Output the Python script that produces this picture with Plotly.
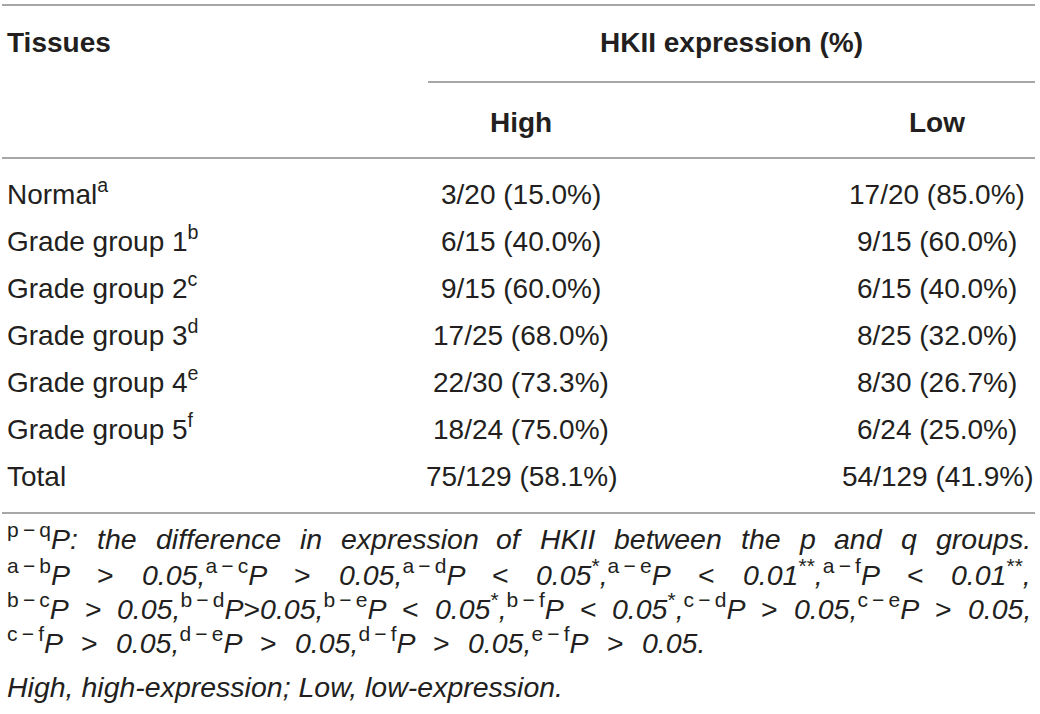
import re
import plotly.graph_objects as go

# table data
TISSUES = ["Normal", "Grade group 1", "Grade group 2", "Grade group 3",
           "Grade group 4", "Grade group 5", "Total"]
GROUP_MARKS = ["a", "b", "c", "d", "e", "f", ""]
HIGH_COUNT = [3, 6, 9, 17, 22, 18, 75]
LOW_COUNT = [17, 9, 6, 8, 8, 6, 54]
GROUP_TOTAL = [20, 15, 15, 25, 30, 24, 129]
HIGH_PCT = [15.0, 40.0, 60.0, 68.0, 73.3, 75.0, 58.1]
LOW_PCT = [85.0, 60.0, 40.0, 32.0, 26.7, 25.0, 41.9]

ROW_HEADER = "Tissues"
SPAN_HEADER = "HKII expression (%)"
SUB_HEADERS = ["High", "Low"]

# footnote lines split into words; each line is spread between the left edge and its right end
NOTE_LINES = [
    ["<sup>p − q</sup><i>P:</i>", "<i>the</i>", "<i>difference</i>", "<i>in</i>",
     "<i>expression</i>", "<i>of</i>", "<i>HKII</i>", "<i>between</i>", "<i>the</i>",
     "<i>p</i>", "<i>and</i>", "<i>q</i>", "<i>groups.</i>"],
    ["<sup>a − b</sup><i>P</i>", "&gt;", "<i>0.05,</i><sup>a − c</sup><i>P</i>", "&gt;",
     "<i>0.05,</i><sup>a − d</sup><i>P</i>", "&lt;",
     "<i>0.05</i><sup>*</sup><i>,</i><sup>a − e</sup><i>P</i>", "&lt;",
     "<i>0.01</i><sup>**</sup><i>,</i><sup>a − f</sup><i>P</i>", "&lt;",
     "<i>0.01</i><sup>**</sup><i>,</i>"],
    ["<sup>b − c</sup><i>P</i>", "&gt;",
     "<i>0.05,</i><sup>b − d</sup><i>P</i>&gt;<i>0.05,</i><sup>b − e</sup><i>P</i>", "&lt;",
     "<i>0.05</i><sup>*</sup><i>,</i><sup>b − f</sup><i>P</i>", "&lt;",
     "<i>0.05</i><sup>*</sup><i>,</i><sup>c − d</sup><i>P</i>", "&gt;",
     "<i>0.05,</i><sup>c − e</sup><i>P</i>", "&gt;", "<i>0.05,</i>"],
    ["<sup>c − f</sup><i>P</i>", "&gt;", "<i>0.05,</i><sup>d − e</sup><i>P</i>", "&gt;",
     "<i>0.05,</i><sup>d − f</sup><i>P</i>", "&gt;", "<i>0.05,</i><sup>e − f</sup><i>P</i>",
     "&gt;", "<i>0.05.</i>"],
]
LAST_NOTE = "<i>High, high-expression; Low, low-expression.</i>"

W, H = 1040, 714
FONT = "Helvetica Neue, Helvetica, Liberation Sans, Arial, sans-serif"
TEXT_COLOR = "#231f20"
RULE_COLOR = "#8a8a8a"
BODY_SIZE = 28
NOTE_SIZE = 28.5
NOTE_SUP_SIZE = 21

X_LEFT, X_RIGHT = 7, 1031
NOTE_RIGHTS = [X_RIGHT, X_RIGHT, X_RIGHT, 705]
HIGH_X, LOW_X = 521, 937
SPAN_X0, SPAN_X1 = 428, 1035

HEADER_BASE = 52
SUB_BASE = 132
ROW_BASE0, ROW_STEP = 204, 47.1
NOTE_BASES = [549, 585, 619, 653, 697]

# approximate Helvetica advance widths, per 1000 em
CHAR_W = {"\u2009": 200}
for chars, w in [("ijl", 222), (" ,.:;/!tfI", 278), ("r-()", 333), ("*", 389),
                 ("Jcksvxyz", 500), ("abdeghnopqu0123456789L", 556), ("<>−", 584),
                 ("FTZ", 611), ("ABEKPSVXY", 667), ("CDHNRUw", 722), ("GOQ", 778),
                 ("mM", 833), ("%", 889), ("W", 944)]:
    for c in chars:
        CHAR_W[c] = w


def note_markup(token):
    # larger superscripts with thin spaces round the minus sign
    def repl(m):
        s = m.group(1).replace(" − ", "\u2009−\u2009")
        return f'<sup><span style="font-size:{NOTE_SUP_SIZE}px">{s}</span></sup>'
    return re.sub(r"<sup>(.*?)</sup>", repl, token)


def text_width(html, size):
    w, scale = 0.0, 1.0
    for part in re.split(r"(<sup>|</sup>|<[^>]+>|&\w+;)", html):
        if not part:
            continue
        if part == "<sup>":
            scale = NOTE_SUP_SIZE / size
        elif part == "</sup>":
            scale = 1.0
        elif part.startswith("<"):
            continue
        elif part.startswith("&"):
            w += 584 * scale
        else:
            w += sum(CHAR_W.get(c, 556) for c in part) * scale
    return w * size / 1000


def label(text, x, base, size, anchor="left", bold=False):
    # y is given as baseline; anchor the box bottom just under it
    return dict(
        text=f"<b>{text}</b>" if bold else text,
        x=x, y=base + 0.21 * size,
        xref="x", yref="y",
        xanchor=anchor, yanchor="bottom",
        showarrow=False, borderpad=0, borderwidth=0,
        font=dict(family=FONT, size=size, color=TEXT_COLOR),
    )


annotations = []

# header
annotations.append(label(ROW_HEADER, X_LEFT, HEADER_BASE, BODY_SIZE, bold=True))
annotations.append(label(SPAN_HEADER, (SPAN_X0 + SPAN_X1) / 2, HEADER_BASE,
                         BODY_SIZE, "center", bold=True))
for name, cx in zip(SUB_HEADERS, [HIGH_X, LOW_X]):
    annotations.append(label(name, cx, SUB_BASE, BODY_SIZE, "center", bold=True))

# body rows
for i, tissue in enumerate(TISSUES):
    base = ROW_BASE0 + i * ROW_STEP
    mark = f"<sup>{GROUP_MARKS[i]}</sup>" if GROUP_MARKS[i] else ""
    annotations.append(label(tissue + mark, X_LEFT, base, BODY_SIZE))
    high = f"{HIGH_COUNT[i]}/{GROUP_TOTAL[i]} ({HIGH_PCT[i]:.1f}%)"
    low = f"{LOW_COUNT[i]}/{GROUP_TOTAL[i]} ({LOW_PCT[i]:.1f}%)"
    annotations.append(label(high, HIGH_X, base, BODY_SIZE, "center"))
    annotations.append(label(low, LOW_X, base, BODY_SIZE, "center"))

# footnote, justified lines spread word by word
for tokens, base, right in zip(NOTE_LINES, NOTE_BASES, NOTE_RIGHTS):
    tokens = [note_markup(t) for t in tokens]
    widths = [text_width(t, NOTE_SIZE) for t in tokens]
    gap = (right - X_LEFT - sum(widths)) / (len(tokens) - 1)
    pos = X_LEFT
    for j, (tok, w) in enumerate(zip(tokens, widths)):
        if j == 0:
            annotations.append(label(tok, X_LEFT, base, NOTE_SIZE, "left"))
        elif j == len(tokens) - 1:
            annotations.append(label(tok, right, base, NOTE_SIZE, "right"))
        else:
            annotations.append(label(tok, pos + w / 2, base, NOTE_SIZE, "center"))
        pos += w + gap

annotations.append(label(LAST_NOTE, X_LEFT, NOTE_BASES[-1], NOTE_SIZE, "left"))

# horizontal rules
rules = [(2, 1035, 5), (SPAN_X0, SPAN_X1, 82), (2, 1035, 158), (2, 1035, 513)]
shapes = [
    dict(type="line", xref="x", yref="y", x0=a, x1=b, y0=y, y1=y,
         line=dict(color=RULE_COLOR, width=1.4))
    for a, b, y in rules
]

fig = go.Figure()
fig.update_layout(
    width=W, height=H,
    margin=dict(l=0, r=0, t=0, b=0),
    paper_bgcolor="white", plot_bgcolor="white",
    # axis units are window pixels
    xaxis=dict(range=[0, W], visible=False, fixedrange=True),
    yaxis=dict(range=[H, 0], visible=False, fixedrange=True),
    annotations=annotations,
    shapes=shapes,
    showlegend=False,
)

# drop the default body margin so the figure sits at the window corner
fig.write_html(
    "out.html",
    config={"displayModeBar": False},
    post_script="document.body.style.margin = '0';",
)
